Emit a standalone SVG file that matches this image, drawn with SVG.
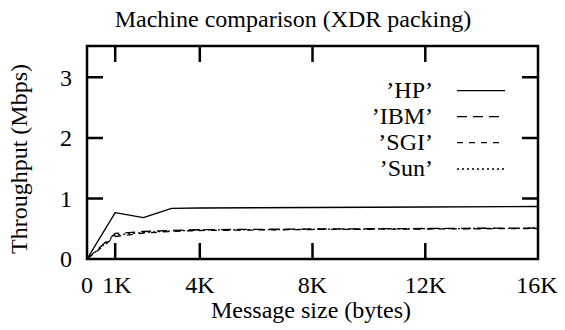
<svg xmlns="http://www.w3.org/2000/svg" width="565" height="330" viewBox="0 0 565 330">
<style>
text{font-family:"Liberation Serif","Times New Roman",serif;font-size:24px;fill:#000}
.frame{fill:none;stroke:#000;stroke-width:2.5}
.tick{stroke:#000;stroke-width:2.5}
.d{fill:none;stroke:#000;stroke-width:1.3;stroke-linejoin:round}
.hp{}
.ibm{stroke-dasharray:10 6}
.sgi{stroke-dasharray:6 6}
.sun{stroke-dasharray:2 3}
</style>
<rect width="565" height="330" fill="#fff"/>
<g id="title"><text x="293" y="27" text-anchor="middle">Machine comparison (XDR packing)</text></g>
<g id="axes">
<rect class="frame" x="87" y="46" width="451" height="213"/>
<path class="tick" d="M115.2 259V243M199.8 259V243M312.5 259V243M425.3 259V243M115.2 46V62M199.8 46V62M312.5 46V62M425.3 46V62M87 198.4H103M87 137.9H103M87 77.3H103M538 198.4H522M538 137.9H522M538 77.3H522"/>
<g text-anchor="end">
<text x="72" y="267">0</text>
<text x="72" y="206.5">1</text>
<text x="72" y="146">2</text>
<text x="72" y="85.5">3</text>
</g>
<g text-anchor="middle">
<text x="87" y="293">0</text>
<text x="117" y="293">1K</text>
<text x="200" y="293">4K</text>
<text x="312.5" y="293">8K</text>
<text x="425.3" y="293">12K</text>
<text x="537" y="293">16K</text>
</g>
<text x="311" y="318" text-anchor="middle">Message size (bytes)</text>
<text transform="translate(27 159) rotate(-90)" text-anchor="middle">Throughput (Mbps)</text>
</g>
<g id="legend" text-anchor="end">
<text x="433" y="98">’HP’</text>
<text x="433" y="124">’IBM’</text>
<text x="433" y="150">’SGI’</text>
<text x="433" y="176">’Sun’</text>
</g>
<g id="connectors">
<path class="d hp" d="M457 90.7H505"/>
<path class="d ibm" d="M457 116.7H505"/>
<path class="d sgi" d="M457 142.7H505"/>
<path class="d sun" d="M457 169H505"/>
<path class="d hp" d="M87 259L115.2 212.7L143.4 217.7L171.6 208.3L200 208L312 207.5L425 207L538 206.5"/>
<path class="d ibm" d="M87 259L115.2 233.5L143.4 231.5L171.6 230.5L200 229.7L312 229L425 228.5L538 228"/>
<path class="d sgi" d="M87 259L115.2 236.5L143.4 233L171.6 231.5L200 230.5L312 229.5L425 229L538 228.5"/>
<path class="d sun" d="M87 259L115.2 235L143.4 232.5L171.6 231L200 230L312 229.3L425 228.7L538 228.2"/>
</g>
</svg>
